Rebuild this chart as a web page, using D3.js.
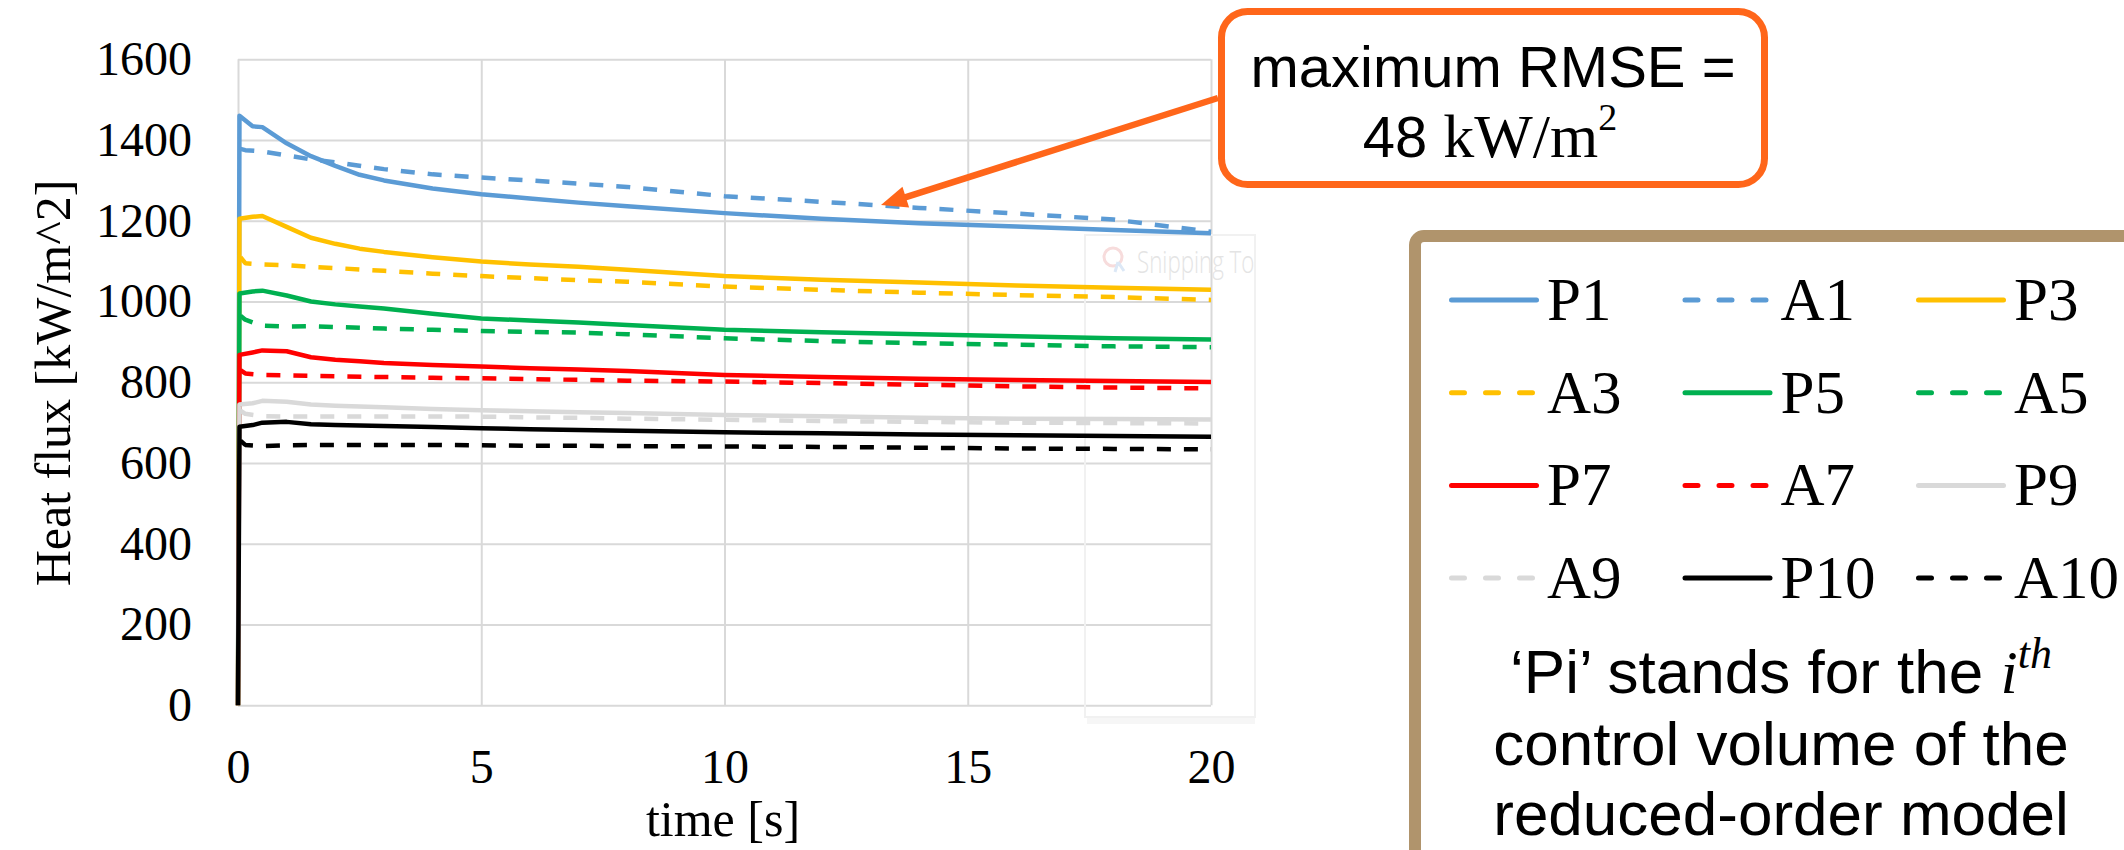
<!DOCTYPE html>
<html>
<head>
<meta charset="utf-8">
<script src="https://cdn.jsdelivr.net/npm/d3@7"></script>
<style>
  html, body { margin: 0; padding: 0; background: #fff; overflow: hidden; }
  svg { display: block; }
  text { white-space: pre; }
</style>
</head>
<body>
<svg id="chart" width="2124" height="850"></svg>
<script>
// time axes [s] for the two kinds of curves
const timeP = [0, 0.03, 0.3, 0.5, 1, 1.5, 2, 2.5, 3, 4, 5, 6, 7, 8, 10, 12, 14, 16, 18, 20];
const timeA = [0.05, 0.15, 0.5, 1, 1.5, 2, 3, 4, 5, 6, 7, 8, 10, 12, 14, 16, 18, 20];

// heat flux [kW/m^2]
const P1  = [0, 1460, 1434, 1432, 1392, 1360, 1336, 1314, 1300, 1280, 1266, 1255, 1245, 1236, 1219, 1205, 1194, 1186, 1177, 1169];
const P3  = [0, 1205, 1210, 1212, 1185, 1158, 1143, 1131, 1123, 1110, 1099, 1092, 1086, 1079, 1063, 1054, 1047, 1040, 1034, 1029];
const P5  = [0, 1020, 1025, 1027, 1015, 1000, 993, 988, 983, 970, 958, 953, 948, 942, 930, 924, 919, 914, 909, 906];
const P7  = [0, 868, 874, 879, 877, 862, 856, 852, 848, 843, 839, 835, 832, 828, 818, 813, 809, 806, 803, 801];
const P9  = [0, 745, 748, 754, 752, 745, 742, 740, 738, 734, 731, 728, 726, 724, 719, 716, 712, 710, 709, 708];
const P10 = [0, 690, 694, 700, 702, 696, 694, 693, 692, 689, 686, 684, 682, 680, 676, 674, 671, 669, 667, 665];

const A1  = [1378, 1375, 1372, 1362, 1352, 1345, 1328, 1315, 1307, 1300, 1292, 1284, 1261, 1247, 1232, 1218, 1203, 1173];
const A3  = [1110, 1095, 1092, 1090, 1086, 1083, 1076, 1069, 1063, 1058, 1053, 1049, 1037, 1029, 1022, 1016, 1011, 1004];
const A5  = [965, 955, 940, 938, 939, 937, 933, 930, 927, 925, 923, 919, 909, 902, 897, 893, 889, 887];
const A7  = [830, 822, 818, 817, 816, 815, 813, 811, 810, 808, 806, 804, 802, 798, 794, 790, 787, 785];
const A9  = [730, 722, 716, 715, 715, 715, 715, 715, 715, 713, 712, 710, 707, 704, 702, 700, 699, 698];
const A10 = [655, 645, 642, 644, 645, 645, 645, 645, 644, 643, 643, 642, 641, 640, 638, 636, 635, 634];

const seriesNames = ['P1', 'A1', 'P3', 'A3', 'P5', 'A5', 'P7', 'A7', 'P9', 'A9', 'P10', 'A10'];
const seriesValues = { P1, A1, P3, A3, P5, A5, P7, A7, P9, A9, P10, A10 };

const xTicks = [0, 5, 10, 15, 20];
const yTicks = [0, 200, 400, 600, 800, 1000, 1200, 1400, 1600];

// styles
const COLORS = { 1: '#5B9BD5', 3: '#FFC000', 5: '#00B050', 7: '#FF0000', 9: '#D9D9D9', 10: '#000000' };
const SERIF = '"Liberation Serif", "Times New Roman", serif';
const SANS = '"Liberation Sans", Arial, sans-serif';
const ORANGE = '#FF661A';
const GRID = '#D9D9D9';

const PLOT = { left: 238, right: 1211, top: 59.3, bottom: 705.3 };

const svg = d3.select('#chart');

let x = d3.scaleLinear().domain([0, 20]).range([PLOT.left, PLOT.right]);
let y = d3.scaleLinear().domain([0, 1600]).range([PLOT.bottom, PLOT.top]);

// gridlines + tick labels
let yAxis = svg.append('g')
  .attr('transform', `translate(${PLOT.left}, 0)`)
  .call(d3.axisLeft(y).tickValues(yTicks).tickFormat(d3.format('d'))
    .tickSize(-(PLOT.right - PLOT.left)).tickPadding(46));
yAxis.select('.domain').remove();
yAxis.selectAll('line').attr('stroke', GRID).attr('stroke-width', 2);
yAxis.selectAll('text')
  .attr('font-family', SERIF).attr('font-size', 48).attr('fill', '#000');

let xAxis = svg.append('g')
  .attr('transform', `translate(0, ${PLOT.bottom})`)
  .call(d3.axisBottom(x).tickValues(xTicks).tickFormat(d3.format('d'))
    .tickSize(-(PLOT.bottom - PLOT.top)).tickPadding(44));
xAxis.select('.domain').remove();
xAxis.selectAll('line').attr('stroke', GRID).attr('stroke-width', 2);
xAxis.selectAll('text')
  .attr('font-family', SERIF).attr('font-size', 48).attr('fill', '#000');

// axis titles
svg.append('text')
  .attr('transform', 'translate(70, 383) rotate(-90)')
  .attr('text-anchor', 'middle')
  .attr('font-family', SERIF).attr('font-size', 50)
  .text('Heat flux [kW/m^2]');

svg.append('text')
  .attr('x', 723).attr('y', 836)
  .attr('text-anchor', 'middle')
  .attr('font-family', SERIF).attr('font-size', 50)
  .text('time [s]');

// faint "Snipping Tool" ghost window that sits on the picture
let snip = svg.append('g');
snip.append('clipPath').attr('id', 'snipClip')
  .append('rect').attr('x', 1085).attr('y', 235).attr('width', 170).attr('height', 482);
snip.append('rect')
  .attr('x', 1085).attr('y', 235).attr('width', 170).attr('height', 482)
  .attr('fill', 'none').attr('stroke', '#F1F1F1').attr('stroke-width', 2);
snip.append('line')
  .attr('x1', 1087).attr('x2', 1255).attr('y1', 721).attr('y2', 721)
  .attr('stroke', '#F6F6F6').attr('stroke-width', 6);
snip.append('circle')
  .attr('cx', 1113).attr('cy', 257).attr('r', 9)
  .attr('fill', 'none').attr('stroke', '#F7DCDC').attr('stroke-width', 3);
snip.append('path')
  .attr('d', 'M1118,262 l6,9 m-6,-9 l-3,10')
  .attr('fill', 'none').attr('stroke', '#DCE8F6').attr('stroke-width', 3);
snip.append('g')
  .attr('clip-path', 'url(#snipClip)')
  .append('text')
  .attr('transform', 'translate(1137, 273) scale(0.72, 1)')
  .attr('font-family', '"Open Sans", "Noto Sans", sans-serif').attr('font-size', 31)
  .attr('font-weight', 300)
  .attr('fill', '#E4E4E4')
  .text('Snipping Tool');

// series
let line = d3.line()
  .x((d) => x(d[0]))
  .y((d) => y(d[1]));

function styleFor(name) {
  const num = +name.slice(1);
  return { color: COLORS[num], dashed: name[0] === 'A' };
}

seriesNames.forEach((name) => {
  const vals = seriesValues[name];
  const times = name[0] === 'P' ? timeP : timeA;
  const pts = times.map((t, i) => [t, vals[i]]);
  const st = styleFor(name);
  svg.append('path')
    .datum(pts)
    .attr('d', line)
    .attr('fill', 'none')
    .attr('stroke', st.color)
    .attr('stroke-width', 4.5)
    .attr('stroke-linejoin', 'round')
    .attr('stroke-dasharray', st.dashed ? '14,13' : null);
});

// annotation box + arrow
let ann = svg.append('g');
ann.append('rect')
  .attr('x', 1221.5).attr('y', 11.5).attr('width', 543).attr('height', 173)
  .attr('rx', 26).attr('ry', 26)
  .attr('fill', '#fff').attr('stroke', ORANGE).attr('stroke-width', 7);

const arrowFrom = [1218, 98], arrowTo = [881, 205];
const dx = arrowTo[0] - arrowFrom[0], dy = arrowTo[1] - arrowFrom[1];
const len = Math.hypot(dx, dy), ux = dx / len, uy = dy / len;
const headLen = 26, headHalf = 11;
const base = [arrowTo[0] - ux * headLen, arrowTo[1] - uy * headLen];
ann.append('line')
  .attr('x1', arrowFrom[0]).attr('y1', arrowFrom[1])
  .attr('x2', base[0] + ux * 4).attr('y2', base[1] + uy * 4)
  .attr('stroke', ORANGE).attr('stroke-width', 6.5);
ann.append('path')
  .attr('d', `M${arrowTo[0]},${arrowTo[1]} L${base[0] - uy * headHalf},${base[1] + ux * headHalf} L${base[0] + uy * headHalf},${base[1] - ux * headHalf} Z`)
  .attr('fill', ORANGE);

ann.append('text')
  .attr('x', 1493).attr('y', 87)
  .attr('text-anchor', 'middle')
  .attr('font-family', SANS).attr('font-size', 58)
  .text('maximum RMSE =');
let t2 = ann.append('text')
  .attr('x', 1490).attr('y', 157)
  .attr('text-anchor', 'middle');
t2.append('tspan').attr('font-family', SANS).attr('font-size', 58).text('48 ');
t2.append('tspan').attr('font-family', SERIF).attr('font-size', 62).text('kW/m');
t2.append('tspan').attr('font-family', SERIF).attr('font-size', 38).attr('dy', -27).text('2');

// legend box (runs off the right and bottom edges)
let lg = svg.append('g');
lg.append('rect')
  .attr('x', 1415).attr('y', 236).attr('width', 800).attr('height', 700)
  .attr('rx', 9).attr('ry', 9)
  .attr('fill', '#fff').attr('stroke', '#B0946C').attr('stroke-width', 12);

const LG = { x0: 1449, colStep: 233.5, y0: 300, rowStep: 92.7, lineLen: 90 };
seriesNames.forEach((name, i) => {
  const col = i % 3, row = Math.floor(i / 3);
  const lx = LG.x0 + col * LG.colStep;
  const ly = LG.y0 + row * LG.rowStep;
  const st = styleFor(name);
  lg.append('line')
    .attr('x1', lx + 2.5).attr('x2', lx + LG.lineLen - 2.5)
    .attr('y1', ly).attr('y2', ly)
    .attr('stroke', st.color).attr('stroke-width', 5)
    .attr('stroke-linecap', 'round')
    .attr('stroke-dasharray', st.dashed ? '13,21' : null);
  lg.append('text')
    .attr('x', lx + LG.lineLen + 8).attr('y', ly + 20)
    .attr('font-family', SERIF).attr('font-size', 61)
    .text(name);
});

// explanation under the legend
let ex = lg.append('g').attr('font-family', SANS).attr('font-size', 62).attr('text-anchor', 'middle');
let l1 = ex.append('text').attr('x', 1781).attr('y', 693);
l1.append('tspan').text('\u2018Pi\u2019 stands for the ');
l1.append('tspan').attr('font-family', SERIF).attr('font-style', 'italic').text('i');
l1.append('tspan').attr('font-family', SERIF).attr('font-style', 'italic')
  .attr('font-size', 44).attr('dy', -25).text('th');
ex.append('text').attr('x', 1781).attr('y', 765).text('control volume of the');
ex.append('text').attr('x', 1781).attr('y', 835).text('reduced-order model');
</script>
</body>
</html>
